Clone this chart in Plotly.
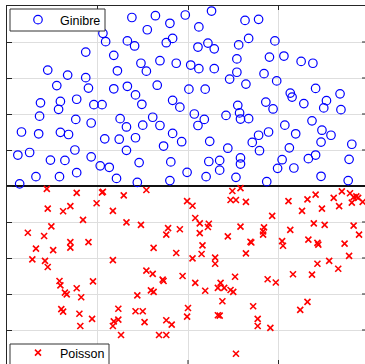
import plotly.graph_objects as go

# Ginibre sample (upper half-plane)
ginibre_x = [0.87, 0.45, 0.67, 0.87, 0.55, 0.90, 0.37, 0.59, 0.77, 0.96,
             1.05, 0.57, 0.36, 0.76, 0.93, 0.16, 0.35, 0.59, 0.68, 0.12,
             0.25, 0.75, 0.48, 0.64, 0.93, 0.32, 0.58, 0.77, 0.14, 1.06,
             1.09, 1.18, 1.22, 1.18, 1.33, 1.42, 1.49, 1.66, 1.83, 1.91,
             1.25, 1.32, 1.50, 1.61, 1.69, 1.83, 1.93, 1.08, 1.24, 1.42,
             1.73, 1.32, 1.03, 1.13, 1.46, 1.81, 1.21, 1.44, 1.80, 1.38,
             1.64, 1.80, 1.55, 1.33, 1.41, 1.76, 1.83, 1.48, 1.69, 1.87,
             1.54, 1.97, 2.26, 2.12, 2.63, 2.78, 2.11, 2.22, 2.29, 2.56,
             2.67, 2.96, 2.03, 2.12, 2.29, 2.54, 2.54, 2.46, 2.64, 2.84,
             2.90, 2.98, 2.01, 2.19, 2.07, 2.18, 2.11, 2.42, 2.55, 2.57,
             2.58, 2.67, 2.86, 2.94, 2.24, 2.44, 2.71, 2.78, 2.79, 2.89,
             2.23, 2.35, 2.35, 2.58, 2.58, 1.99, 2.20, 2.53, 2.87, 2.99,
             3.06, 3.25, 3.38, 3.13, 3.15, 3.28, 3.41, 3.53, 3.50, 3.68,
             3.69, 3.07, 3.19, 3.37, 3.48, 3.58, 3.47, 3.81, 3.12, 3.04,
             3.17, 3.33, 3.41, 3.78, 3.47, 3.77]
ginibre_y = [3.72, 3.22, 3.08, 3.01, 2.79, 2.72, 2.31, 2.35, 2.41, 2.26,
             2.26, 2.13, 1.94, 1.85, 1.75, 1.50, 1.45, 1.49, 1.43, 0.86,
             0.93, 1.00, 0.72, 0.71, 0.81, 0.26, 0.26, 0.37, 0.06, 4.24,
             4.01, 3.63, 3.20, 2.70, 2.77, 2.53, 2.27, 2.80, 2.38, 2.19,
             1.87, 1.64, 1.69, 1.91, 1.68, 1.46, 1.23, 1.31, 1.30, 1.34,
             1.11, 0.99, 0.56, 0.52, 0.65, 0.67, 0.21, 0.10, 0.15, 4.68,
             4.73, 4.52, 4.34, 4.03, 3.89, 3.98, 4.10, 3.41, 3.48, 3.41,
             3.19, 4.75, 4.86, 4.42, 4.60, 4.63, 3.86, 3.97, 3.81, 3.92,
             4.10, 4.03, 3.36, 3.26, 3.26, 3.53, 3.16, 2.97, 2.83, 3.12,
             3.58, 2.92, 2.69, 2.69, 2.00, 1.85, 1.68, 1.96, 2.24, 2.03,
             1.86, 1.87, 2.33, 2.14, 1.24, 1.05, 1.21, 1.41, 0.98, 1.50,
             0.68, 0.71, 0.44, 0.78, 0.61, 0.38, 0.26, 0.24, 0.12, 0.49,
             3.61, 3.46, 3.41, 2.58, 2.47, 2.29, 2.71, 2.37, 2.17, 2.56,
             2.12, 1.69, 1.45, 1.81, 1.55, 1.41, 1.22, 1.16, 1.06, 0.73,
             0.50, 0.76, 0.86, 0.74, 0.27, 0.15]

# Poisson sample (lower half-plane)
poisson_x = [0.44, 0.77, 0.45, 0.62, 0.70, 0.99, 0.84, 0.49, 0.23, 0.41,
             0.32, 0.51, 0.70, 0.70, 0.90, 0.28, 0.42, 0.45, 0.58, 0.59,
             0.64, 0.66, 0.77, 0.82, 0.95, 0.60, 0.62, 0.80, 0.81, 0.94,
             1.05, 1.06, 1.29, 1.54, 1.17, 1.32, 1.48, 1.78, 1.76, 1.91,
             1.62, 1.87, 1.17, 1.54, 1.61, 1.72, 1.73, 1.94, 1.59, 1.62,
             1.44, 1.23, 1.42, 1.50, 1.18, 1.23, 1.17, 1.52, 1.76, 1.82,
             1.26, 1.68, 1.76, 2.49, 2.58, 2.47, 2.53, 2.64, 1.99, 2.05,
             2.08, 2.13, 2.23, 2.22, 2.13, 2.44, 2.58, 2.84, 2.83, 2.83,
             2.93, 2.16, 2.15, 2.69, 2.70, 2.64, 2.05, 2.30, 2.30, 2.08,
             2.19, 2.36, 2.33, 2.40, 2.47, 2.50, 2.52, 2.88, 2.97, 2.38,
             2.00, 1.99, 2.33, 2.35, 2.72, 2.77, 2.77, 2.91, 2.53, 3.11,
             3.26, 3.32, 3.41, 3.48, 3.61, 3.67, 3.70, 3.79, 3.81, 3.83,
             3.86, 3.88, 3.93, 3.13, 3.39, 3.51, 3.83, 3.89, 3.04, 3.05,
             3.33, 3.43, 3.44, 3.73, 3.78, 3.56, 3.43, 3.66, 3.16, 3.37,
             3.32, 3.24]
poisson_y = [-0.08, -0.19, -0.63, -0.70, -0.56, -0.48, -0.94, -1.12, -1.30, -1.39,
             -1.74, -1.78, -1.56, -1.71, -1.56, -2.04, -2.08, -2.25, -2.64, -2.76,
             -2.96, -3.01, -2.84, -3.09, -2.65, -3.42, -3.49, -3.55, -3.89, -3.69,
             -0.18, -0.16, -0.26, -0.11, -0.69, -1.01, -1.08, -1.17, -1.35, -1.20,
             -1.72, -1.86, -2.06, -2.35, -2.44, -2.60, -2.64, -2.50, -2.90, -2.94,
             -3.04, -3.41, -3.48, -3.48, -3.76, -3.71, -3.89, -3.78, -3.73, -3.85,
             -4.14, -4.14, -4.14, -0.14, -0.06, -0.39, -0.39, -0.44, -0.42, -0.55,
             -0.89, -1.04, -1.05, -1.14, -1.31, -1.40, -1.13, -1.15, -1.26, -1.35,
             -0.83, -1.65, -1.89, -1.55, -1.57, -1.87, -2.01, -1.99, -2.16, -2.69,
             -2.91, -2.69, -2.83, -2.83, -2.89, -2.94, -2.52, -2.59, -2.68, -3.20,
             -3.39, -3.63, -3.59, -3.60, -3.34, -3.69, -3.89, -3.94, -4.66, -0.42,
             -0.69, -0.37, -0.24, -0.63, -0.33, -0.56, -0.15, -0.20, -0.46, -0.31,
             -0.29, -0.33, -0.44, -1.22, -1.04, -1.08, -1.10, -1.35, -1.53, -1.66,
             -1.49, -1.58, -1.63, -1.60, -1.94, -2.08, -2.16, -2.30, -2.45, -2.46,
             -3.22, -3.44]

x_ticks = [0, 1, 2, 3, 4]
y_ticks = [-4, -3, -2, -1, 0, 1, 2, 3, 4]

W, H = 365, 364
ML, MT = 7, 6
PX_PER_X = 90.5
PX_PER_Y = 36.0
x_max = (W - ML) / PX_PER_X
y_top = 5.0
y_bot = y_top - (H - MT) / PX_PER_Y
PLOT_H = H - MT
PLOT_W = W - ML

FRAME = "#262626"
GRID = "#dedede"
FONT = "Arial, Liberation Sans, sans-serif"


def px_x(px):
    """Pixel column -> paper x."""
    return (px - ML) / PLOT_W


def px_y(py):
    """Pixel row -> paper y."""
    return (H - py) / PLOT_H


fig = go.Figure()
fig.add_trace(go.Scatter(
    x=ginibre_x, y=ginibre_y, mode="markers", name="Ginibre",
    marker=dict(symbol="circle-open", size=8.5, color="#0000ff",
                line=dict(width=1.2, color="#0000ff")),
    legend="legend", showlegend=True,
))
fig.add_trace(go.Scatter(
    x=poisson_x, y=poisson_y, mode="markers", name="Poisson",
    marker=dict(symbol="x-thin-open", size=6, color="#ff0000",
                line=dict(width=1.6, color="#ff0000")),
    legend="legend2", showlegend=True,
))

shapes = []
# tick marks on the bottom and right edges
for t in x_ticks[1:-1]:
    shapes.append(dict(type="line", xref="x", yref="paper", x0=t, x1=t,
                       y0=0, y1=4 / PLOT_H, line=dict(color=FRAME, width=1)))
for t in y_ticks:
    if t == 0:
        continue
    shapes.append(dict(type="line", xref="paper", yref="y", x0=1 - 3 / PLOT_W, x1=1,
                       y0=t, y1=t, line=dict(color=FRAME, width=1)))
# framed white panels behind the two legends
for (l, t, r, b) in [(10, 9, 105, 31), (10, 344, 109, 367)]:
    shapes.append(dict(type="rect", xref="paper", yref="paper", layer="above",
                       x0=px_x(l), x1=px_x(r), y0=px_y(b), y1=px_y(t),
                       fillcolor="white", line=dict(color="#333333", width=1)))

legend_style = dict(xanchor="left", yanchor="top", bgcolor="rgba(0,0,0,0)",
                    borderwidth=0, indentation=6,
                    itemwidth=34, font=dict(family=FONT, size=12.5))

fig.update_layout(
    width=W, height=H,
    margin=dict(l=ML, r=0, t=MT, b=0, pad=0, autoexpand=False),
    showlegend=True,
    paper_bgcolor="white", plot_bgcolor="white",
    font=dict(family=FONT, size=12.5, color="black"),
    shapes=shapes,
    xaxis=dict(range=[0, x_max], side="top", tickvals=x_ticks, showticklabels=False,
               ticks="inside", ticklen=4, tickcolor=FRAME,
               showline=True, linecolor=FRAME, linewidth=1.2,
               showgrid=True, gridcolor=GRID, gridwidth=1, zeroline=False),
    yaxis=dict(range=[y_bot, y_top], tickvals=y_ticks, showticklabels=False,
               ticks="inside", ticklen=5, tickcolor=FRAME,
               showline=True, linecolor=FRAME, linewidth=1.2,
               showgrid=True, gridcolor=GRID, gridwidth=1,
               zeroline=True, zerolinecolor="#111111", zerolinewidth=1.5),
    legend=dict(x=3 / PLOT_W, y=1 + 1 / PLOT_H, **legend_style),
    legend2=dict(x=3 / PLOT_W, y=(H - 338) / PLOT_H, **legend_style),
)

fig.write_html("out.html")
